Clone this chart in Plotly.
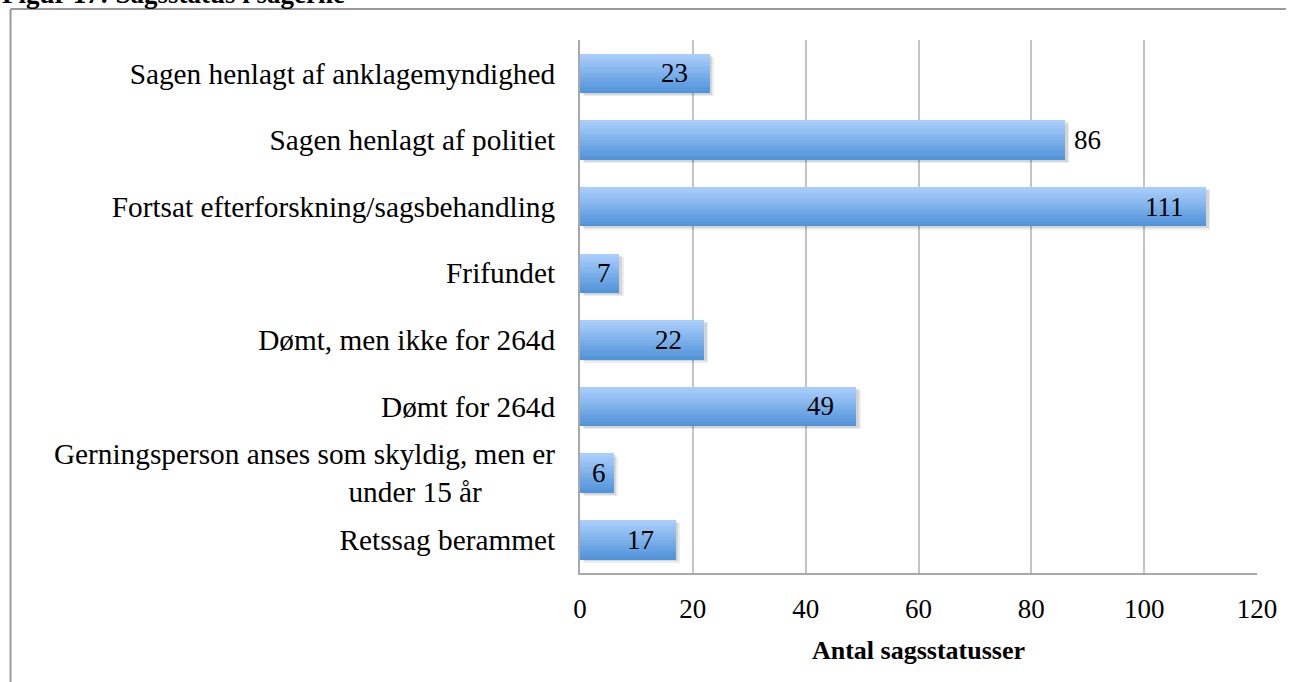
import plotly.graph_objects as go

# ---- data ----
categories = [
    "Sagen henlagt af anklagemyndighed",
    "Sagen henlagt af politiet",
    "Fortsat efterforskning/sagsbehandling",
    "Frifundet",
    "Dømt, men ikke for 264d",
    "Dømt for 264d",
    "Gerningsperson anses som skyldig, men er<br>under 15 år" + "\u00a0" * 10,
    "Retssag berammet",
]
values = [23, 86, 111, 7, 22, 49, 6, 17]
x_ticks = [0, 20, 40, 60, 80, 100, 120]
x_title = "Antal sagsstatusser"
fig_title = "Figur 17: Sagsstatus i sagerne"

# ---- style ----
SERIF = "Liberation Serif, Times New Roman, serif"
OUTSIDE = {"Sagen henlagt af politiet"}
TOP = (170, 206, 251)
BOT = (82, 148, 218)
BAR_T = 0.59
N = 16

fig = go.Figure()

# soft shadow
for k, (dx, a) in enumerate([(0.75, 0.07), (0.45, 0.10)]):
    fig.add_trace(go.Bar(
        y=categories, x=values, base=dx, orientation="h",
        width=BAR_T, offset=-BAR_T / 2 + 0.03 + 0.02 * (1 - k),
        marker=dict(color=f"rgba(0,0,0,{a})", line=dict(width=0)),
        hoverinfo="skip", showlegend=False,
    ))

# gradient bars built from strips
w = BAR_T / N
for i in range(N):
    t = i / (N - 1)
    c = tuple(round(TOP[j] + (BOT[j] - TOP[j]) * t) for j in range(3))
    fig.add_trace(go.Bar(
        y=categories, x=values, orientation="h",
        width=w * 1.08, offset=-BAR_T / 2 + i * w,
        marker=dict(color=f"rgb{c}", line=dict(width=0)),
        hoverinfo="skip" if i else None, showlegend=False,
    ))

# value labels
for cat, v in zip(categories, values):
    if cat in OUTSIDE:
        xa, xs = "left", 7
    elif v < 10:
        xa, xs = "right", -6
    else:
        xa, xs = "right", -20
    fig.add_annotation(
        x=v, y=cat, xref="x", yref="y", text=str(v), showarrow=False,
        xanchor=xa, xshift=xs, yanchor="middle",
        font=dict(family=SERIF, size=27, color="black"),
    )

# figure caption (cut at the top edge, as in the reference)
fig.add_annotation(
    x=0, xref="paper", xanchor="left", xshift=-580,
    y=1.0, yref="paper", yanchor="bottom", yshift=29,
    text=f"<b>{fig_title}</b>", showarrow=False,
    font=dict(family=SERIF, size=27, color="black"),
)

fig.update_layout(
    width=1289, height=682,
    margin=dict(l=580, r=29, t=40, b=109),
    paper_bgcolor="white", plot_bgcolor="white",
    barmode="overlay", bargap=0,
    font=dict(family=SERIF, size=28, color="black"),
    xaxis=dict(
        range=[0, 120], tickvals=x_ticks, ticktext=[str(t) for t in x_ticks],
        showgrid=True, gridcolor="#c4c4c4", gridwidth=2,
        zeroline=False, showline=True, linecolor="#a9a9a9", linewidth=2,
        ticks="", ticklabelstandoff=11,
        tickfont=dict(family=SERIF, size=27),
        title=dict(text=f"<b>{x_title}</b>", standoff=17,
                   font=dict(family=SERIF, size=26)),
        mirror=False, fixedrange=True,
    ),
    yaxis=dict(
        categoryorder="array", categoryarray=categories, autorange="reversed",
        showgrid=False, zeroline=False, showline=True, linecolor="#a9a9a9",
        linewidth=2, ticks="", ticklabelstandoff=17,
        tickfont=dict(family=SERIF, size=29.3),
        fixedrange=True,
    ),
    showlegend=False,
)

# page frame lines (top + left)
plot_w = 1289 - 580 - 29
plot_h = 682 - 40 - 109
x_left = (8 - 580) / plot_w
y_top = (682 - 109 - 9) / plot_h
fig.add_shape(type="line", xref="paper", yref="paper",
              x0=x_left, x1=(1289 - 580) / plot_w, y0=y_top, y1=y_top,
              line=dict(color="#9a9a9a", width=2), layer="above")
fig.add_shape(type="line", xref="paper", yref="paper",
              x0=x_left, x1=x_left, y0=y_top, y1=-109 / plot_h,
              line=dict(color="#9a9a9a", width=2), layer="above")

fig.write_html(
    "out.html",
    config={"displayModeBar": False},
    post_script="document.body.style.margin='0';document.body.style.overflow='hidden';",
)
